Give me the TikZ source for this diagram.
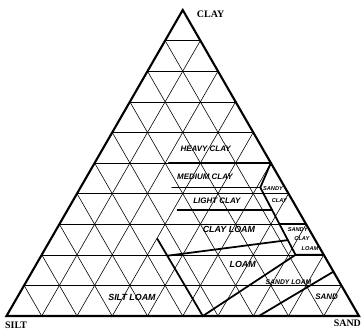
\documentclass[tikz,border=0pt]{standalone}
\usepackage{fontspec}
\setmainfont{Liberation Serif}
\newfontfamily\handfont{Liberation Sans}
\begin{document}
\begin{tikzpicture}[x=1.0575cm,y=0.918cm,
  gridline/.style={line width=0.5pt},
  bound/.style={line width=1.5pt,line cap=round},
  corner/.style={font=\fontsize{8.5}{9}\selectfont\bfseries,inner sep=0pt},
  soil/.style={font=\handfont\bfseries\itshape\fontsize{6.8}{8}\selectfont,inner sep=0pt},
  tinysoil/.style={font=\handfont\bfseries\itshape\fontsize{4.8}{5}\selectfont,inner sep=0pt}]
  \useasboundingbox (-0.184,-0.523) rectangle (10.085,10.327);
  % ten-step grid
  \foreach \k in {1,...,9} {
    \draw[gridline] ({\k/2},\k) -- ({10-\k/2},\k);
    \draw[gridline] (\k,0) -- ({5+\k/2},{10-\k});
    \draw[gridline] (\k,0) -- ({\k/2},\k);
  }
  \coordinate (silt) at (0,0);
  \coordinate (sand) at (10,0);
  \coordinate (clay) at (5,10);
  \draw[line width=1.8pt,line join=miter] (silt) -- (sand) -- (clay) -- cycle;
  % class boundaries
  \coordinate (hc1) at (4.6,5);    \coordinate (hc2) at (7.5,5);
  \coordinate (mc1) at (4.7,4.2);  \coordinate (sc1) at (7.2,4.2);
  \coordinate (lc1) at (4.85,3.46); \coordinate (lc2) at (7.54,3.46);
  \coordinate (sc2) at (7.75,3);   \coordinate (sc3) at (8.5,3);
  \coordinate (cl1) at (4.56,1.97); \coordinate (cl2) at (7.98,2.48);
  \coordinate (sl1) at (4.28,2.52); \coordinate (sl2) at (5.57,0);
  \coordinate (scl1) at (8.2,2);   \coordinate (scl2) at (9,2);
  \coordinate (sd1) at (7.16,0);   \coordinate (sd2) at (9.275,1.45);
  \draw[bound] (hc1) -- (hc2) -- (sc1) -- (scl1) -- (scl2);
  \draw[bound] (mc1) -- (sc1);
  \draw[bound] (lc1) -- (lc2);
  \draw[bound] (sc2) -- (sc3);
  \draw[bound] (cl1) -- (cl2);
  \draw[bound] (sl1) -- (sl2) -- (scl1);
  \draw[bound] (sd1) -- (sd2);
  % names
  \node[corner] (nclay) at (5.79,9.85) {CLAY};
  \node[corner] (nsilt) at (0.27,-0.29) {SILT};
  \node[corner] (nsand) at (9.67,-0.24) {SAND};
  \node[soil] (heavy) at (5.65,5.46) {HEAVY CLAY};
  \node[soil] (medium) at (5.63,4.55) {MEDIUM CLAY};
  \node[soil] (light) at (5.97,3.76) {LIGHT CLAY};
  \node[tinysoil] (sclay1) at (7.56,4.17) {SANDY};
  \node[tinysoil] (sclay2) at (7.74,3.78) {CLAY};
  \node[soil,font=\handfont\bfseries\itshape\fontsize{7.6}{9}\selectfont] (clayloam) at (6.31,2.83) {CLAY LOAM};
  \node[tinysoil] (scloam1) at (8.26,2.81) {SANDY};
  \node[tinysoil] (scloam2) at (8.38,2.52) {CLAY};
  \node[tinysoil] (scloam3) at (8.61,2.22) {LOAM};
  \node[soil,font=\handfont\bfseries\itshape\fontsize{7.6}{9}\selectfont] (loam) at (6.7,1.7) {LOAM};
  \node[soil,font=\handfont\bfseries\itshape\fontsize{5.8}{7}\selectfont] (sandyloam) at (8.0,1.1) {SANDY LOAM};
  \node[soil] (sandn) at (9.08,0.63) {SAND};
  \node[soil,font=\handfont\bfseries\itshape\fontsize{7.6}{9}\selectfont] (siltloam) at (3.56,0.6) {SILT LOAM};
\end{tikzpicture}
\end{document}
